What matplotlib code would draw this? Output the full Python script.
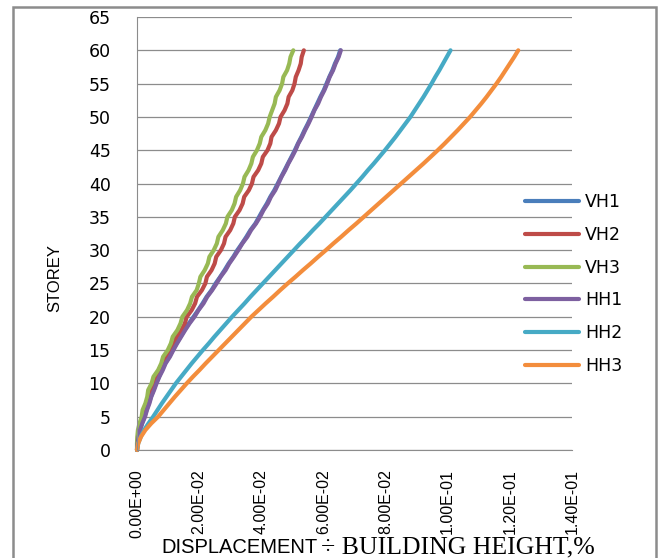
import numpy as np
import matplotlib
matplotlib.use("Agg")
import matplotlib.pyplot as plt
from matplotlib.patches import Rectangle

# storey numbers 0..60
storeys = list(range(61))

# displacement / building height (%), one value per storey
vh1 = [0.0000, 0.0001, 0.0004, 0.0009, 0.0016, 0.0024, 0.0031, 0.0038, 0.0045, 0.0053,
       0.0061, 0.0071, 0.0080, 0.0091, 0.0103, 0.0115, 0.0127, 0.0140, 0.0153, 0.0167,
       0.0182, 0.0197, 0.0211, 0.0224, 0.0240, 0.0253, 0.0268, 0.0282, 0.0295, 0.0310,
       0.0323, 0.0338, 0.0352, 0.0365, 0.0381, 0.0393, 0.0405, 0.0418, 0.0429, 0.0442,
       0.0453, 0.0464, 0.0475, 0.0486, 0.0497, 0.0508, 0.0518, 0.0529, 0.0539, 0.0550,
       0.0560, 0.0570, 0.0580, 0.0590, 0.0601, 0.0610, 0.0619, 0.0629, 0.0637, 0.0647,
       0.0654]
vh2 = [0.0000, 0.0001, 0.0003, 0.0007, 0.0012, 0.0020, 0.0026, 0.0029, 0.0039, 0.0047,
       0.0055, 0.0061, 0.0077, 0.0088, 0.0094, 0.0110, 0.0121, 0.0127, 0.0143, 0.0154,
       0.0160, 0.0176, 0.0187, 0.0193, 0.0209, 0.0220, 0.0225, 0.0240, 0.0250, 0.0255,
       0.0270, 0.0280, 0.0285, 0.0300, 0.0310, 0.0315, 0.0330, 0.0340, 0.0345, 0.0360,
       0.0370, 0.0375, 0.0390, 0.0400, 0.0405, 0.0420, 0.0429, 0.0433, 0.0447, 0.0457,
       0.0462, 0.0475, 0.0484, 0.0488, 0.0500, 0.0507, 0.0511, 0.0520, 0.0527, 0.0530,
       0.0537]
vh3 = [0.0000, 0.0000, 0.0001, 0.0003, 0.0008, 0.0015, 0.0018, 0.0027, 0.0033, 0.0036,
       0.0047, 0.0053, 0.0068, 0.0078, 0.0084, 0.0099, 0.0109, 0.0115, 0.0130, 0.0140,
       0.0146, 0.0161, 0.0171, 0.0177, 0.0192, 0.0199, 0.0204, 0.0218, 0.0228, 0.0233,
       0.0247, 0.0257, 0.0262, 0.0276, 0.0286, 0.0291, 0.0305, 0.0314, 0.0319, 0.0332,
       0.0341, 0.0346, 0.0359, 0.0368, 0.0373, 0.0386, 0.0395, 0.0400, 0.0413, 0.0422,
       0.0427, 0.0435, 0.0443, 0.0447, 0.0459, 0.0467, 0.0471, 0.0483, 0.0490, 0.0494,
       0.0503]
hh1 = [0.0000, 0.0002, 0.0005, 0.0010, 0.0017, 0.0026, 0.0032, 0.0040, 0.0046, 0.0055,
       0.0063, 0.0072, 0.0083, 0.0092, 0.0106, 0.0117, 0.0129, 0.0142, 0.0155, 0.0169,
       0.0185, 0.0198, 0.0214, 0.0226, 0.0242, 0.0256, 0.0269, 0.0285, 0.0297, 0.0312,
       0.0326, 0.0339, 0.0355, 0.0367, 0.0383, 0.0396, 0.0407, 0.0421, 0.0431, 0.0445,
       0.0455, 0.0465, 0.0477, 0.0487, 0.0499, 0.0510, 0.0519, 0.0531, 0.0541, 0.0552,
       0.0562, 0.0571, 0.0583, 0.0592, 0.0603, 0.0612, 0.0620, 0.0631, 0.0639, 0.0649,
       0.0656]
hh2 = [0.0000, 0.0004, 0.0012, 0.0023, 0.0037, 0.0052, 0.0066, 0.0080, 0.0095, 0.0110,
       0.0125, 0.0142, 0.0159, 0.0176, 0.0194, 0.0212, 0.0231, 0.0249, 0.0268, 0.0287,
       0.0306, 0.0326, 0.0346, 0.0365, 0.0385, 0.0405, 0.0425, 0.0445, 0.0465, 0.0485,
       0.0505, 0.0525, 0.0546, 0.0566, 0.0587, 0.0607, 0.0627, 0.0647, 0.0667, 0.0687,
       0.0706, 0.0725, 0.0743, 0.0762, 0.0780, 0.0798, 0.0815, 0.0832, 0.0848, 0.0864,
       0.0880, 0.0894, 0.0908, 0.0922, 0.0935, 0.0948, 0.0960, 0.0973, 0.0985, 0.0997,
       0.1009]
hh3 = [0.0000, 0.0004, 0.0013, 0.0027, 0.0046, 0.0068, 0.0086, 0.0104, 0.0122, 0.0141,
       0.0160, 0.0180, 0.0201, 0.0221, 0.0242, 0.0263, 0.0284, 0.0305, 0.0326, 0.0347,
       0.0368, 0.0391, 0.0414, 0.0438, 0.0461, 0.0485, 0.0510, 0.0534, 0.0559, 0.0583,
       0.0608, 0.0632, 0.0657, 0.0681, 0.0706, 0.0730, 0.0754, 0.0778, 0.0802, 0.0826,
       0.0850, 0.0874, 0.0898, 0.0922, 0.0945, 0.0968, 0.0990, 0.1011, 0.1032, 0.1052,
       0.1072, 0.1090, 0.1108, 0.1125, 0.1141, 0.1157, 0.1172, 0.1186, 0.1200, 0.1214,
       0.1227]

series_names = ["VH1", "VH2", "VH3", "HH1", "HH2", "HH3"]
series_vals = [vh1, vh2, vh3, hh1, hh2, hh3]
colors = ["#4a7ebb", "#be4b48", "#98b954", "#7d60a0", "#46aac5", "#f38d3c"]

x_ticks = [0.0, 0.02, 0.04, 0.06, 0.08, 0.10, 0.12, 0.14]
y_ticks = list(range(0, 70, 5))

W, H = 660, 558
fig = plt.figure(figsize=(W / 100, H / 100), dpi=100)
ax = fig.add_axes([137 / W, 1 - 450 / H, (572 - 137) / W, (450 - 17) / H])

for name, vals, c in zip(series_names, series_vals, colors):
    ax.plot(vals, storeys, color=c, lw=3.0, label=name,
            solid_capstyle="round", solid_joinstyle="round", clip_on=False)

ax.set_xlim(0, 0.14)
ax.set_ylim(0, 65)
ax.set_xticks(x_ticks)
ax.set_xticklabels([f"{v:.2E}" for v in x_ticks], rotation=90,
                   family=["Liberation Sans Narrow", "Liberation Sans", "DejaVu Sans"],
                   fontsize=11.5)
ax.set_yticks(y_ticks)
ax.set_yticklabels([str(v) for v in y_ticks], family="DejaVu Sans", fontsize=12.5)
ax.tick_params(axis="x", length=0, pad=14)
ax.tick_params(axis="y", length=0, pad=19)

ax.yaxis.grid(True, color="#8c8c8c", lw=0.9)
ax.set_axisbelow(True)
for s in ["top", "right"]:
    ax.spines[s].set_visible(False)
ax.spines["left"].set_color("#8c8c8c")
ax.spines["bottom"].set_color("#8c8c8c")

# y label
fig.text(55 / W, 1 - 278 / H, "STOREY", rotation=90, ha="center", va="center",
         family=["Liberation Sans Narrow", "Liberation Sans", "DejaVu Sans"], fontsize=12)

# x label: sans part + serif part
fig.text(318 / W, 1 - 553 / H, "DISPLACEMENT", ha="right", va="baseline",
         family="Liberation Sans", fontsize=14.5)
fig.text(321 / W, 1 - 553 / H, "\u00f7 BUILDING HEIGHT,%", ha="left", va="baseline",
         family=["Liberation Serif", "DejaVu Serif"], fontsize=18.5)

leg = fig.legend(loc="center left", bbox_to_anchor=(525 / W, 1 - 284 / H),
                 frameon=False, handlelength=3.1, handletextpad=0.35,
                 labelspacing=0.85, borderpad=0, borderaxespad=0,
                 prop={"family": "DejaVu Sans", "size": 12.5})

# outer chart frame
fig.patches.append(Rectangle((13 / W, -0.02), (656 - 13) / W, (558 - 7) / H + 0.02,
                             transform=fig.transFigure, fill=False,
                             edgecolor="#8c8c8c", lw=1.8))

fig.savefig("out.png", dpi=100)
